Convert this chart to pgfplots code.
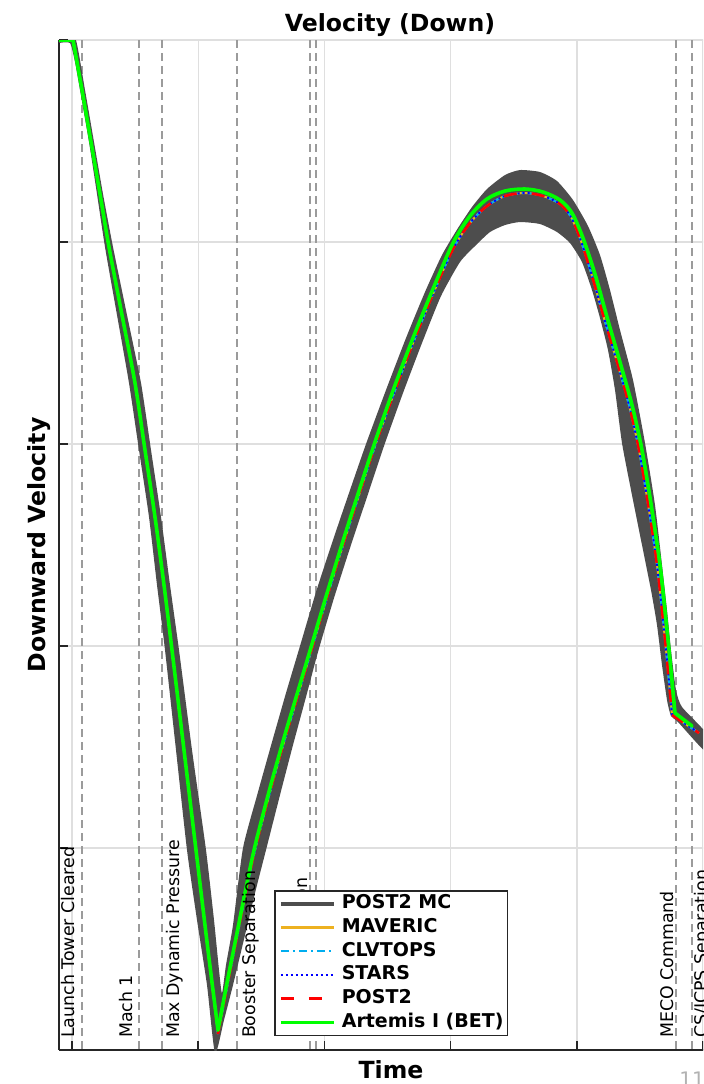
\documentclass[border=0pt]{standalone}
\usepackage{fontspec}
\setmainfont{DejaVu Sans}
\usepackage{pgfplots}
\usepackage{pgfplotstable}
\pgfplotsset{compat=1.18}
\definecolor{mcgray}{RGB}{77,77,77}
\definecolor{matorange}{RGB}{237,177,32}
\definecolor{gridc}{RGB}{223,223,223}
\definecolor{evc}{RGB}{155,155,155}
\definecolor{axc}{RGB}{38,38,38}
\newcommand\evfont{\fontsize{8.7}{10}\selectfont}
% nominal trajectories (MAVERIC, CLVTOPS, STARS, POST2)
\pgfplotstableread{
x y
59 40
73 40
}\nomA
\pgfplotstableread{
x y
73 40
82 90
91 142
100 194
109 247
122 315
135 383
145 450
155 517
164 585
172 650
184 750
196 850
208 950
218 1034
}\nomB
\pgfplotstableread{
x y
218 1034
226 992
236 942
246 892
255 850
270 792
284 742
298 695
312 648
328 594
343 545
359 495
375 446
394 393
413 343
433 294
453 249
470 223
487 206
505 196
525 193
543 196
560 204
571 217
581 241
592 276
604 318
617 362
629 405
639 450
649 510
657 565
663 620
667 660
672 715
}\nomC
\pgfplotstableread{
x y
672 715
699 733
}\nomD
% Artemis I (BET)
\pgfplotstableread{
x y
73 40
82 90
91 142
100 194
109 247
122 315
135 383
145 450
155 517
164 585
172 650
184 750
196 850
208 950
218 1030
}\betB
\pgfplotstableread{
x y
218 1030
226 988
236 938
246 888
255 846
270 788
284 738
298 691
312 644
328 590
343 541
359 491
375 442
394 388
413 338
433 289
453 243
470 216
487 199
505 191
525 189
543 192
560 200
572 213
583 238
595 274
607 317
620 362
632 405
642 450
652 510
660 565
666 620
670 660
675 713
}\betC
\newcommand\nomplot[1]{%
  \addplot[#1, forget plot] table {\nomA};
  \addplot[#1, smooth, tension=0.5, forget plot] table {\nomB};
  \addplot[#1, smooth, tension=0.5, forget plot] table {\nomC};
  \addplot[#1, forget plot] table {\nomD};
}
\begin{document}
\begin{tikzpicture}
\useasboundingbox (0,0) rectangle (351.5pt,-542pt);
\clip (0,0) rectangle (351.5pt,-542pt);
\begin{axis}[
  at={(29.5pt,-525pt)}, anchor=south west,
  scale only axis, width=331pt, height=505pt,
  xmin=59, xmax=721, ymin=40, ymax=1050, y dir=reverse,
  axis x line*=bottom, axis y line*=left,
  axis line style={axc, line width=1pt, -},
  xtick={72,198.2,324.4,450.6,576.8,703},
  ytick={40,242,444,646,848,1050},
  xticklabels={}, yticklabels={},
  tick align=inside, major tick length=4.5pt,
  tick style={axc, line width=0.8pt},
  grid=major, grid style={gridc, line width=0.7pt},
  clip mode=individual,
  legend image code/.code={\draw[#1] (0pt,0pt) -- (26.5pt,0pt);},
  legend style={at={(axis cs:274,890)}, anchor=north west, draw=axc, line width=0.8pt,
    fill=white, font=\bfseries\fontsize{9.5}{11}\selectfont,
    inner xsep=2pt, inner ysep=1.6pt, row sep=2.05pt,
    nodes={inner sep=0pt, text height=7.4pt, text depth=2.4pt},
    /tikz/every odd column/.append style={column sep=3pt}},
  legend cell align=left,
]
% event lines
\pgfplotsinvokeforeach{82,139,162,237,310,316,676,692,708}{
  \addplot[evc, line width=0.6pt, dash pattern=on 4pt off 2.5pt, forget plot] coordinates {(#1,40) (#1,1050)};
}
% POST2 MC dispersion band
\addplot[fill=mcgray, draw=none, smooth, tension=0.35, forget plot] coordinates {
(59,37)(75,37)(85,90)(94,142)(103,194)(113,247)(127,315)(141,383)(151,450)(161,517)(170,585)(179,650)(192,750)(206,850)(214,920)(219,970)(222,993)
(226,965)(233,925)(243,848)(258,792)(272,742)(286,693)(300,646)(316,592)(332,543)(349,493)(366,444)(386,390)(406,338)(425,292)(442,255)(458,228)(472,207)(487,189)(505,175)(520,170)(540,172)(557,181)(573,200)(588,226)(600,255)(610,290)(620,330)(633,380)(645,443)(655,505)(662,565)(667,610)(671,650)(676,690)(682,707)(706,733)
(706,752)(678,722)(671,716)(667,700)(662,665)(657,625)(651,590)(641,540)(631,490)(622,443)(615,390)(608,350)(600,318)(592,290)(582,262)(570,243)(557,232)(540,224)(520,222)(505,225)(490,232)(475,246)(460,262)(441,296)(422,343)(403,393)(384,446)(367,497)(350,548)(334,598)(318,652)(306,697)(293,745)(280,795)(266,850)(255,893)(245,935)(233,985)(224,1020)(215,1053)
(207,985)(197,920)(187,850)(176,750)(165,650)(157,585)(149,517)(139,450)(129,383)(117,315)(105,247)(97,194)(89,142)(80,90)(75,62)(70,43)(59,43)
};
\nomplot{matorange, line width=1pt}
\nomplot{cyan, line width=1pt, dash pattern=on 5pt off 2pt on 1pt off 2pt}
\nomplot{blue, line width=1pt, dash pattern=on 1pt off 1.5pt}
\nomplot{red, line width=1.3pt, dash pattern=on 6.5pt off 7.5pt}
% Artemis I BET
\addplot[green, line width=1.8pt, line cap=round, forget plot] coordinates {(59,40)(73,40)};
\addplot[green, line width=1.8pt, line cap=round, smooth, tension=0.5, forget plot] table {\betB};
\addplot[green, line width=1.8pt, line cap=round, smooth, tension=0.5, forget plot] table {\betC};
\addplot[green, line width=1.8pt, line cap=round, forget plot] coordinates {(675,713)(692,726)};
% event labels
\node[rotate=90, anchor=base west, font=\evfont] at (axis cs:75,1045) {Launch Tower Cleared};
\node[rotate=90, anchor=base west, font=\evfont] at (axis cs:133,1045) {Mach 1};
\node[rotate=90, anchor=base west, font=\evfont] at (axis cs:180,1045) {Max Dynamic Pressure};
\node[rotate=90, anchor=base west, font=\evfont] at (axis cs:255,1045) {Booster Separation};
\node[rotate=90, anchor=base west, font=\evfont] at (axis cs:307,1045) {ESM Panel Jettison};
\node[rotate=90, anchor=base west, font=\evfont] at (axis cs:337,1045) {LAS Jettison};
\node[rotate=90, anchor=base west, font=\evfont] at (axis cs:673,1045) {MECO Command};
\node[rotate=90, anchor=base west, font=\evfont] at (axis cs:707,1045) {CS/ICPS Separation};
% titles
\node[font=\bfseries\fontsize{11.8}{14}\selectfont, anchor=base] at (axis cs:390,31) {Velocity (Down)};
\node[font=\bfseries\fontsize{11.8}{14}\selectfont, anchor=base] at (axis cs:391,1078) {Time};
\node[font=\bfseries\fontsize{11.8}{14}\selectfont, rotate=90, anchor=base] at (axis cs:46,545) {Downward Velocity};
\node[gray!60, font=\fontsize{10}{12}\selectfont, anchor=base west, inner sep=0pt] at (axis cs:679,1086) {11};
% legend
\addlegendimage{mcgray, line width=2pt}
\addlegendentry{POST2 MC}
\addlegendimage{matorange, line width=1.2pt}
\addlegendentry{MAVERIC}
\addlegendimage{cyan, line width=1.2pt, dash pattern=on 4pt off 2pt on 1pt off 2pt}
\addlegendentry{CLVTOPS}
\addlegendimage{blue, line width=1.2pt, dash pattern=on 1pt off 1.5pt}
\addlegendentry{STARS}
\addlegendimage{red, line width=1.3pt, dash pattern=on 6.5pt off 7.5pt}
\addlegendentry{POST2}
\addlegendimage{green, line width=1.8pt}
\addlegendentry{Artemis I (BET)}
\end{axis}
\end{tikzpicture}
\end{document}
